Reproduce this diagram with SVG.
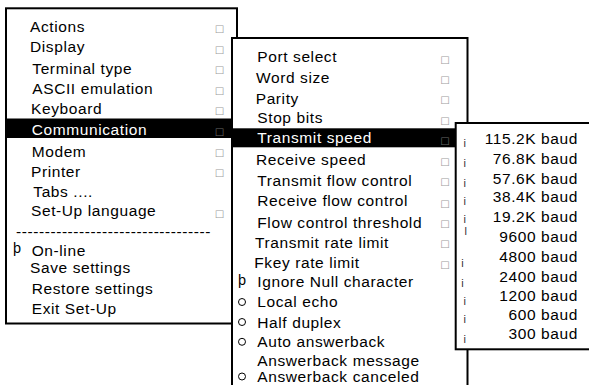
<svg xmlns="http://www.w3.org/2000/svg" width="589" height="385" viewBox="0 0 589 385">
<style>
.box{fill:#fff;stroke:#000;stroke-width:2}
.hl{fill:#000}
.t{font-family:"Liberation Sans",Arial,sans-serif;font-size:15.5px;letter-spacing:0.6px;fill:#000}
.w{fill:#fff}
.sq{font-family:"DejaVu Sans",sans-serif;font-size:10px;fill:#9a9a9a;text-anchor:middle}
.sqd{fill:#6a6a6a}
.th{font-family:"Liberation Sans",Arial,sans-serif;font-size:14.5px;fill:#000}
.ci{fill:none;stroke:#000;stroke-width:1}
.mk{font-family:"Liberation Sans",Arial,sans-serif;font-size:11px;fill:#333}
.r{text-anchor:end}
</style>
<rect width="589" height="385" fill="#fff"/>
<g id="main-menu">
<rect class="box" x="6" y="8.3" width="231" height="315.2"/>
<rect class="hl" x="6" y="118.5" width="226" height="19.5"/>
<text class="t" x="30" y="32.3">Actions</text>
<text class="t" x="30" y="52.3">Display</text>
<text class="t" x="32.3" y="74">Terminal type</text>
<text class="t" x="32.3" y="94.3">ASCII emulation</text>
<text class="t" x="31" y="114.3">Keyboard</text>
<text class="t w" x="31.7" y="135">Communication</text>
<text class="t" x="31.7" y="156.7">Modem</text>
<text class="t" x="31" y="176.7">Printer</text>
<text class="t" x="33.3" y="196.7">Tabs ....</text>
<text class="t" x="31" y="216">Set-Up language</text>
<text class="t" x="16" y="236.5" textLength="195" lengthAdjust="spacing">----------------------------------</text>
<text class="th" x="13" y="252.5">þ</text>
<text class="t" x="31.7" y="255.7">On-line</text>
<text class="t" x="30" y="273.3">Save settings</text>
<text class="t" x="31.7" y="294">Restore settings</text>
<text class="t" x="31.7" y="314">Exit Set-Up</text>
<text class="sq" x="219.5" y="32">□</text>
<text class="sq" x="219.5" y="53">□</text>
<text class="sq" x="219.5" y="73">□</text>
<text class="sq" x="219.5" y="94">□</text>
<text class="sq" x="219.5" y="114">□</text>
<text class="sq sqd" x="219.5" y="135">□</text>
<text class="sq" x="219.5" y="156">□</text>
<text class="sq" x="219.5" y="176">□</text>
<text class="sq" x="219.5" y="217">□</text>
</g>
<g id="communication-menu">
<rect class="box" x="232" y="38" width="235.5" height="360"/>
<rect class="hl" x="232" y="128.3" width="224" height="19"/>
<text class="t" x="257.3" y="61.7">Port select</text>
<text class="t" x="256" y="83.3">Word size</text>
<text class="t" x="255.7" y="104">Parity</text>
<text class="t" x="257.3" y="123.3">Stop bits</text>
<text class="t w" x="257.3" y="143.3">Transmit speed</text>
<text class="t" x="256" y="165">Receive speed</text>
<text class="t" x="257.3" y="185.7">Transmit flow control</text>
<text class="t" x="257.3" y="205.7">Receive flow control</text>
<text class="t" x="257.3" y="227.7">Flow control threshold</text>
<text class="t" x="255" y="247.7">Transmit rate limit</text>
<text class="t" x="254.3" y="267.7">Fkey rate limit</text>
<text class="th" x="238" y="285">þ</text>
<text class="t" x="257.3" y="287.3">Ignore Null character</text>
<circle class="ci" cx="242" cy="302" r="3.5"/>
<text class="t" x="257.3" y="307.3">Local echo</text>
<circle class="ci" cx="242" cy="322" r="3.5"/>
<text class="t" x="257.3" y="327.7">Half duplex</text>
<circle class="ci" cx="242" cy="341.8" r="3.5"/>
<text class="t" x="257.3" y="347.3">Auto answerback</text>
<text class="t" x="257.3" y="366">Answerback message</text>
<circle class="ci" cx="242" cy="376.5" r="3.5"/>
<text class="t" x="257.3" y="381.5">Answerback canceled</text>
<text class="sq" x="445" y="63.3">□</text>
<text class="sq" x="445" y="83.3">□</text>
<text class="sq" x="445" y="103.3">□</text>
<text class="sq" x="445" y="124">□</text>
<text class="sq sqd" x="445" y="144">□</text>
<text class="sq" x="445" y="165">□</text>
<text class="sq" x="445" y="185">□</text>
<text class="sq" x="445" y="206.7">□</text>
<text class="sq" x="445" y="227.3">□</text>
<text class="sq" x="445" y="246.7">□</text>
<text class="sq" x="445" y="267.7">□</text>
</g>
<g id="speed-menu">
<rect class="box" x="455.7" y="123" width="150" height="226.3"/>
<text class="t r" x="578" y="144">115.2K baud</text>
<text class="t r" x="578" y="164">76.8K baud</text>
<text class="t r" x="578" y="184">57.6K baud</text>
<text class="t r" x="578" y="202.3">38.4K baud</text>
<text class="t r" x="578" y="222.3">19.2K baud</text>
<text class="t r" x="578" y="242.3">9600 baud</text>
<text class="t r" x="578" y="262.3">4800 baud</text>
<text class="t r" x="578" y="282.3">2400 baud</text>
<text class="t r" x="578" y="300.7">1200 baud</text>
<text class="t r" x="578" y="320">600 baud</text>
<text class="t r" x="578" y="339">300 baud</text>
<text class="mk" x="463.5" y="147.3">i</text>
<text class="mk" x="463.5" y="167">i</text>
<text class="mk" x="463.5" y="187">i</text>
<text class="mk" x="463.5" y="205">i</text>
<text class="mk" x="463.5" y="223">i</text>
<text class="mk" x="464.5" y="235">l</text>
<text class="mk" x="461.3" y="267">i</text>
<text class="mk" x="461.3" y="287">i</text>
<text class="mk" x="463.5" y="305">i</text>
<text class="mk" x="463.5" y="323">i</text>
<text class="mk" x="463.5" y="343">i</text>
</g>
<g id="connectors"/>
</svg>
